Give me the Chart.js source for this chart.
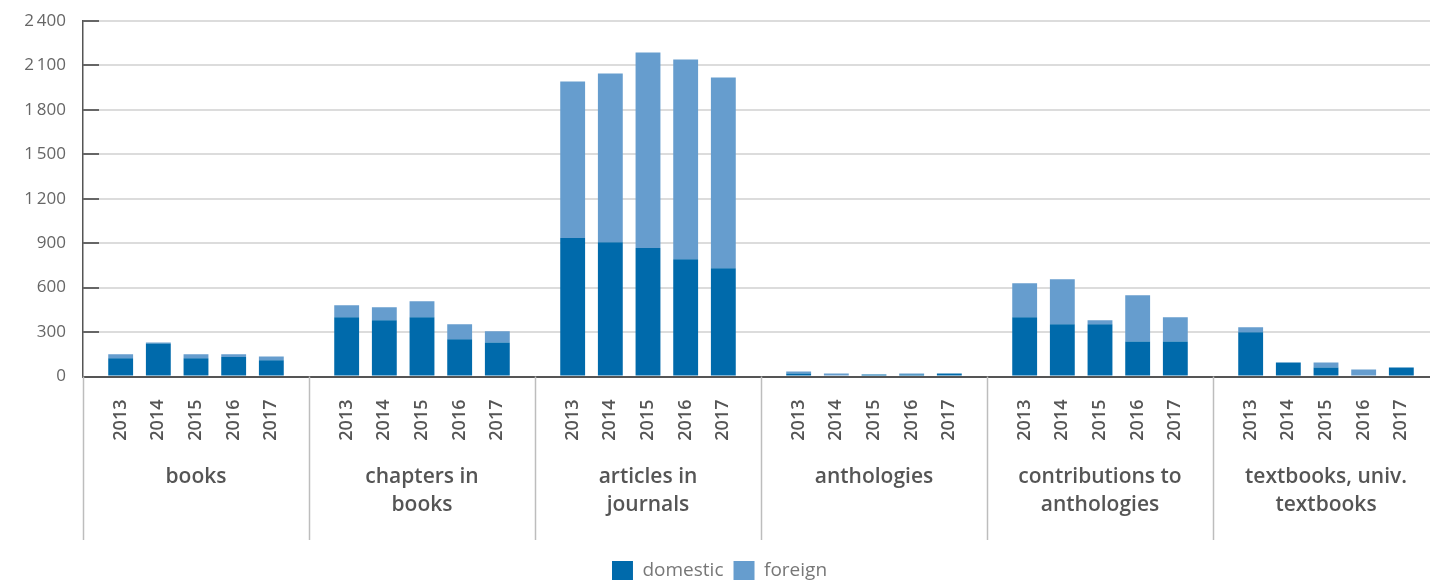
<!DOCTYPE html>
<html>
<head>
<meta charset="utf-8">
<script src="https://cdn.jsdelivr.net/npm/chart.js@4.4.1/dist/chart.umd.min.js"></script>
<style>
  html, body { margin: 0; padding: 0; background: #fff; overflow: hidden; }
  #wrap { position: relative; width: 1439px; height: 590px; }
</style>
</head>
<body>
<div id="wrap"><canvas id="chart"></canvas></div>
<script>
// categories
const groupNames = [
  ['books'],
  ['chapters in', 'books'],
  ['articles in', 'journals'],
  ['anthologies'],
  ['contributions to', 'anthologies'],
  ['textbooks, univ.', 'textbooks']
];
const years = ['2013', '2014', '2015', '2016', '2017'];

// values, group by group, 2013..2017
const domesticValues = [
  124, 223, 124, 131, 110,
  400, 379, 400, 251, 230,
  935, 907, 867, 792, 731,
  20, 0, 14, 14, 20,
  400, 352, 352, 237, 237,
  298, 95, 61, 0, 61
];
const foreignValues = [
  27, 6, 27, 20, 25,
  81, 88, 108, 101, 75,
  1057, 1138, 1321, 1348, 1287,
  14, 20, 0, 6, 0,
  230, 305, 27, 311, 163,
  34, 0, 34, 47, 0
];

const yTicks = [0, 300, 600, 900, 1200, 1500, 1800, 2100, 2400];

const darkBlue = '#006aab';
const lightBlue = '#669dce';
const fontFamily = "'Open Sans', 'DejaVu Sans', sans-serif";

// one empty slot at each group edge so the bars sit in the middle of their group
let labels = [];
let domesticData = [];
let foreignData = [];
let gapIndexes = [];
groupNames.forEach((name, g) => {
  gapIndexes.push(labels.length);
  labels.push('');
  domesticData.push(null);
  foreignData.push(null);
  years.forEach((year, i) => {
    labels.push(year);
    domesticData.push(domesticValues[g * years.length + i]);
    foreignData.push(foreignValues[g * years.length + i]);
  });
});
gapIndexes.push(labels.length);
labels.push('');
domesticData.push(null);
foreignData.push(null);

function formatThousands(v) {
  return String(v).replace(/\B(?=(\d{3})+(?!\d))/g, '\u2009');
}

const groupPlugin = {
  id: 'groupPlugin',
  afterDraw(chart) {
    const ctx = chart.ctx;
    const xScale = chart.scales.x;
    const yScale = chart.scales.y;
    const area = chart.chartArea;
    ctx.save();

    // short tick marks inside the plot on the y axis
    ctx.strokeStyle = '#666';
    ctx.lineWidth = 2;
    yTicks.forEach(t => {
      if (t === 0) return;
      const y = Math.round(yScale.getPixelForValue(t));
      ctx.beginPath();
      ctx.moveTo(area.left, y);
      ctx.lineTo(area.left + 16, y);
      ctx.stroke();
    });

    // group separators below the axis
    ctx.strokeStyle = '#bdbdbd';
    ctx.lineWidth = 1.5;
    gapIndexes.forEach(k => {
      const x = Math.round(xScale.getPixelForTick(k)) + 0.5;
      ctx.beginPath();
      ctx.moveTo(x, area.bottom);
      ctx.lineTo(x, 540);
      ctx.stroke();
    });

    // group names
    ctx.fillStyle = '#555';
    ctx.font = '600 21px ' + fontFamily;
    ctx.textAlign = 'center';
    ctx.textBaseline = 'middle';
    groupNames.forEach((lines, g) => {
      const x = xScale.getPixelForTick(gapIndexes[g] + 3);
      lines.forEach((line, j) => {
        ctx.fillText(line, x, 477 + j * 28);
      });
    });
    ctx.restore();
  }
};

const ctx = document.getElementById('chart').getContext('2d');
const chart = new Chart(ctx, {
  type: 'bar',
  data: {
    labels: labels,
    datasets: [
      { label: 'domestic', data: domesticData, backgroundColor: darkBlue, borderWidth: 0 },
      { label: 'foreign', data: foreignData, backgroundColor: lightBlue, borderWidth: 0 }
    ]
  },
  options: {
    responsive: true,
    maintainAspectRatio: false,
    animation: false,
    layout: { padding: { top: 21, left: 0, right: 0, bottom: 0 } },
    datasets: {
      bar: { categoryPercentage: 1, barPercentage: 0.66 }
    },
    scales: {
      x: {
        stacked: true,
        offset: false,
        grid: { display: false, drawTicks: false },
        border: { display: true, color: '#555', width: 2 },
        ticks: {
          autoSkip: false,
          minRotation: 90,
          maxRotation: 90,
          padding: 23,
          color: '#555',
          font: { family: fontFamily, size: 18, weight: '600' }
        },
        afterFit(scale) {
          scale.height = 174.5;
          scale.paddingLeft = 0;
          scale.paddingRight = 0;
        }
      },
      y: {
        stacked: true,
        min: 0,
        max: 2400,
        afterBuildTicks(scale) { scale.ticks = yTicks.map(v => ({ value: v })); },
        grid: { color: '#dcdcdc', lineWidth: 2, drawTicks: false },
        border: { display: true, color: '#555', width: 1.5 },
        ticks: {
          padding: 17,
          color: '#666',
          font: { family: fontFamily, size: 17 },
          callback: v => formatThousands(v)
        },
        afterFit(scale) {
          scale.width = 83;
          scale.paddingTop = 0;
          scale.paddingBottom = 0;
        }
      }
    },
    plugins: {
      legend: {
        position: 'bottom',
        labels: {
          boxWidth: 21,
          boxHeight: 19,
          padding: 10,
          color: '#777',
          font: { family: fontFamily, size: 19 }
        }
      },
      tooltip: { enabled: false }
    }
  },
  plugins: [groupPlugin]
});
</script>
</body>
</html>
